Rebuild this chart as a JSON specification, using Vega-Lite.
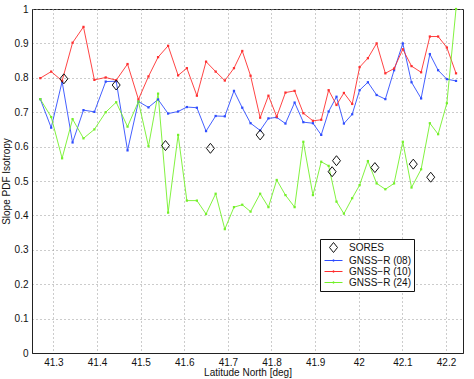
{
  "$schema": "https://vega.github.io/schema/vega-lite/v6.json",
  "width": 431,
  "height": 344,
  "autosize": {"type": "none"},
  "padding": {"left": 32, "top": 9, "right": 11, "bottom": 26},
  "background": "white",
  "config": {
    "view": {"stroke": "#222", "strokeWidth": 1},
    "font": "Liberation Sans",
    "axis": {
      "labelFont": "Liberation Sans",
      "titleFont": "Liberation Sans",
      "labelFontSize": 10,
      "titleFontSize": 10,
      "titleFontWeight": "normal",
      "labelColor": "#111",
      "titleColor": "#111",
      "domainColor": "#222",
      "ticks": false,
      "gridColor": "#999",
      "gridDash": [1, 3],
      "gridWidth": 1,
      "gridOpacity": 1
    }
  },
  "data": {
    "values": [
      {"lat": 41.270, "series": "GNSS−R (08)", "v": 0.738},
      {"lat": 41.295, "series": "GNSS−R (08)", "v": 0.655},
      {"lat": 41.320, "series": "GNSS−R (08)", "v": 0.789},
      {"lat": 41.344, "series": "GNSS−R (08)", "v": 0.612},
      {"lat": 41.369, "series": "GNSS−R (08)", "v": 0.706},
      {"lat": 41.394, "series": "GNSS−R (08)", "v": 0.701},
      {"lat": 41.420, "series": "GNSS−R (08)", "v": 0.789},
      {"lat": 41.444, "series": "GNSS−R (08)", "v": 0.790},
      {"lat": 41.470, "series": "GNSS−R (08)", "v": 0.589},
      {"lat": 41.495, "series": "GNSS−R (08)", "v": 0.731},
      {"lat": 41.518, "series": "GNSS−R (08)", "v": 0.714},
      {"lat": 41.540, "series": "GNSS−R (08)", "v": 0.737},
      {"lat": 41.563, "series": "GNSS−R (08)", "v": 0.696},
      {"lat": 41.586, "series": "GNSS−R (08)", "v": 0.702},
      {"lat": 41.606, "series": "GNSS−R (08)", "v": 0.715},
      {"lat": 41.629, "series": "GNSS−R (08)", "v": 0.713},
      {"lat": 41.650, "series": "GNSS−R (08)", "v": 0.645},
      {"lat": 41.672, "series": "GNSS−R (08)", "v": 0.689},
      {"lat": 41.693, "series": "GNSS−R (08)", "v": 0.688},
      {"lat": 41.714, "series": "GNSS−R (08)", "v": 0.762},
      {"lat": 41.733, "series": "GNSS−R (08)", "v": 0.713},
      {"lat": 41.752, "series": "GNSS−R (08)", "v": 0.668},
      {"lat": 41.774, "series": "GNSS−R (08)", "v": 0.647},
      {"lat": 41.793, "series": "GNSS−R (08)", "v": 0.682},
      {"lat": 41.812, "series": "GNSS−R (08)", "v": 0.685},
      {"lat": 41.832, "series": "GNSS−R (08)", "v": 0.667},
      {"lat": 41.853, "series": "GNSS−R (08)", "v": 0.728},
      {"lat": 41.873, "series": "GNSS−R (08)", "v": 0.671},
      {"lat": 41.895, "series": "GNSS−R (08)", "v": 0.668},
      {"lat": 41.914, "series": "GNSS−R (08)", "v": 0.634},
      {"lat": 41.931, "series": "GNSS−R (08)", "v": 0.702},
      {"lat": 41.949, "series": "GNSS−R (08)", "v": 0.745},
      {"lat": 41.966, "series": "GNSS−R (08)", "v": 0.667},
      {"lat": 41.985, "series": "GNSS−R (08)", "v": 0.694},
      {"lat": 42.002, "series": "GNSS−R (08)", "v": 0.764},
      {"lat": 42.021, "series": "GNSS−R (08)", "v": 0.787},
      {"lat": 42.041, "series": "GNSS−R (08)", "v": 0.750},
      {"lat": 42.061, "series": "GNSS−R (08)", "v": 0.738},
      {"lat": 42.081, "series": "GNSS−R (08)", "v": 0.822},
      {"lat": 42.101, "series": "GNSS−R (08)", "v": 0.900},
      {"lat": 42.121, "series": "GNSS−R (08)", "v": 0.787},
      {"lat": 42.143, "series": "GNSS−R (08)", "v": 0.740},
      {"lat": 42.163, "series": "GNSS−R (08)", "v": 0.869},
      {"lat": 42.182, "series": "GNSS−R (08)", "v": 0.822},
      {"lat": 42.202, "series": "GNSS−R (08)", "v": 0.796},
      {"lat": 42.223, "series": "GNSS−R (08)", "v": 0.791},

      {"lat": 41.270, "series": "GNSS−R (10)", "v": 0.799},
      {"lat": 41.295, "series": "GNSS−R (10)", "v": 0.818},
      {"lat": 41.320, "series": "GNSS−R (10)", "v": 0.791},
      {"lat": 41.344, "series": "GNSS−R (10)", "v": 0.902},
      {"lat": 41.369, "series": "GNSS−R (10)", "v": 0.948},
      {"lat": 41.394, "series": "GNSS−R (10)", "v": 0.794},
      {"lat": 41.420, "series": "GNSS−R (10)", "v": 0.801},
      {"lat": 41.444, "series": "GNSS−R (10)", "v": 0.793},
      {"lat": 41.470, "series": "GNSS−R (10)", "v": 0.840},
      {"lat": 41.495, "series": "GNSS−R (10)", "v": 0.737},
      {"lat": 41.518, "series": "GNSS−R (10)", "v": 0.804},
      {"lat": 41.540, "series": "GNSS−R (10)", "v": 0.860},
      {"lat": 41.563, "series": "GNSS−R (10)", "v": 0.893},
      {"lat": 41.586, "series": "GNSS−R (10)", "v": 0.807},
      {"lat": 41.606, "series": "GNSS−R (10)", "v": 0.828},
      {"lat": 41.629, "series": "GNSS−R (10)", "v": 0.748},
      {"lat": 41.650, "series": "GNSS−R (10)", "v": 0.847},
      {"lat": 41.672, "series": "GNSS−R (10)", "v": 0.818},
      {"lat": 41.693, "series": "GNSS−R (10)", "v": 0.792},
      {"lat": 41.714, "series": "GNSS−R (10)", "v": 0.828},
      {"lat": 41.733, "series": "GNSS−R (10)", "v": 0.878},
      {"lat": 41.752, "series": "GNSS−R (10)", "v": 0.806},
      {"lat": 41.774, "series": "GNSS−R (10)", "v": 0.684},
      {"lat": 41.793, "series": "GNSS−R (10)", "v": 0.748},
      {"lat": 41.812, "series": "GNSS−R (10)", "v": 0.687},
      {"lat": 41.832, "series": "GNSS−R (10)", "v": 0.757},
      {"lat": 41.853, "series": "GNSS−R (10)", "v": 0.762},
      {"lat": 41.873, "series": "GNSS−R (10)", "v": 0.697},
      {"lat": 41.895, "series": "GNSS−R (10)", "v": 0.675},
      {"lat": 41.914, "series": "GNSS−R (10)", "v": 0.678},
      {"lat": 41.931, "series": "GNSS−R (10)", "v": 0.764},
      {"lat": 41.949, "series": "GNSS−R (10)", "v": 0.721},
      {"lat": 41.966, "series": "GNSS−R (10)", "v": 0.756},
      {"lat": 41.985, "series": "GNSS−R (10)", "v": 0.724},
      {"lat": 42.002, "series": "GNSS−R (10)", "v": 0.831},
      {"lat": 42.021, "series": "GNSS−R (10)", "v": 0.857},
      {"lat": 42.041, "series": "GNSS−R (10)", "v": 0.900},
      {"lat": 42.061, "series": "GNSS−R (10)", "v": 0.813},
      {"lat": 42.081, "series": "GNSS−R (10)", "v": 0.827},
      {"lat": 42.101, "series": "GNSS−R (10)", "v": 0.883},
      {"lat": 42.121, "series": "GNSS−R (10)", "v": 0.834},
      {"lat": 42.143, "series": "GNSS−R (10)", "v": 0.816},
      {"lat": 42.163, "series": "GNSS−R (10)", "v": 0.920},
      {"lat": 42.182, "series": "GNSS−R (10)", "v": 0.920},
      {"lat": 42.202, "series": "GNSS−R (10)", "v": 0.888},
      {"lat": 42.223, "series": "GNSS−R (10)", "v": 0.813},

      {"lat": 41.270, "series": "GNSS−R (24)", "v": 0.738},
      {"lat": 41.295, "series": "GNSS−R (24)", "v": 0.686},
      {"lat": 41.320, "series": "GNSS−R (24)", "v": 0.566},
      {"lat": 41.344, "series": "GNSS−R (24)", "v": 0.680},
      {"lat": 41.369, "series": "GNSS−R (24)", "v": 0.624},
      {"lat": 41.394, "series": "GNSS−R (24)", "v": 0.650},
      {"lat": 41.420, "series": "GNSS−R (24)", "v": 0.700},
      {"lat": 41.444, "series": "GNSS−R (24)", "v": 0.729},
      {"lat": 41.470, "series": "GNSS−R (24)", "v": 0.658},
      {"lat": 41.495, "series": "GNSS−R (24)", "v": 0.731},
      {"lat": 41.518, "series": "GNSS−R (24)", "v": 0.601},
      {"lat": 41.540, "series": "GNSS−R (24)", "v": 0.754},
      {"lat": 41.563, "series": "GNSS−R (24)", "v": 0.408},
      {"lat": 41.586, "series": "GNSS−R (24)", "v": 0.634},
      {"lat": 41.606, "series": "GNSS−R (24)", "v": 0.443},
      {"lat": 41.629, "series": "GNSS−R (24)", "v": 0.443},
      {"lat": 41.650, "series": "GNSS−R (24)", "v": 0.404},
      {"lat": 41.672, "series": "GNSS−R (24)", "v": 0.463},
      {"lat": 41.693, "series": "GNSS−R (24)", "v": 0.360},
      {"lat": 41.714, "series": "GNSS−R (24)", "v": 0.424},
      {"lat": 41.733, "series": "GNSS−R (24)", "v": 0.431},
      {"lat": 41.752, "series": "GNSS−R (24)", "v": 0.411},
      {"lat": 41.774, "series": "GNSS−R (24)", "v": 0.463},
      {"lat": 41.793, "series": "GNSS−R (24)", "v": 0.424},
      {"lat": 41.812, "series": "GNSS−R (24)", "v": 0.503},
      {"lat": 41.832, "series": "GNSS−R (24)", "v": 0.459},
      {"lat": 41.853, "series": "GNSS−R (24)", "v": 0.424},
      {"lat": 41.873, "series": "GNSS−R (24)", "v": 0.614},
      {"lat": 41.895, "series": "GNSS−R (24)", "v": 0.459},
      {"lat": 41.914, "series": "GNSS−R (24)", "v": 0.556},
      {"lat": 41.931, "series": "GNSS−R (24)", "v": 0.544},
      {"lat": 41.949, "series": "GNSS−R (24)", "v": 0.440},
      {"lat": 41.966, "series": "GNSS−R (24)", "v": 0.405},
      {"lat": 41.985, "series": "GNSS−R (24)", "v": 0.450},
      {"lat": 42.002, "series": "GNSS−R (24)", "v": 0.488},
      {"lat": 42.021, "series": "GNSS−R (24)", "v": 0.558},
      {"lat": 42.041, "series": "GNSS−R (24)", "v": 0.493},
      {"lat": 42.061, "series": "GNSS−R (24)", "v": 0.476},
      {"lat": 42.081, "series": "GNSS−R (24)", "v": 0.493},
      {"lat": 42.101, "series": "GNSS−R (24)", "v": 0.614},
      {"lat": 42.121, "series": "GNSS−R (24)", "v": 0.481},
      {"lat": 42.143, "series": "GNSS−R (24)", "v": 0.534},
      {"lat": 42.163, "series": "GNSS−R (24)", "v": 0.668},
      {"lat": 42.182, "series": "GNSS−R (24)", "v": 0.636},
      {"lat": 42.202, "series": "GNSS−R (24)", "v": 0.726},
      {"lat": 42.223, "series": "GNSS−R (24)", "v": 1.0},

      {"lat": 41.324, "series": "SORES", "v": 0.797},
      {"lat": 41.444, "series": "SORES", "v": 0.779},
      {"lat": 41.557, "series": "SORES", "v": 0.603},
      {"lat": 41.660, "series": "SORES", "v": 0.595},
      {"lat": 41.774, "series": "SORES", "v": 0.634},
      {"lat": 41.939, "series": "SORES", "v": 0.527},
      {"lat": 41.949, "series": "SORES", "v": 0.559},
      {"lat": 42.037, "series": "SORES", "v": 0.539},
      {"lat": 42.125, "series": "SORES", "v": 0.549},
      {"lat": 42.165, "series": "SORES", "v": 0.511}
    ]
  },
  "encoding": {
    "x": {
      "field": "lat", "type": "quantitative",
      "scale": {"domain": [41.251, 42.239], "nice": false, "zero": false},
      "axis": {
        "title": "Latitude North [deg]",
        "values": [41.3, 41.4, 41.5, 41.6, 41.7, 41.8, 41.9, 42.0, 42.1, 42.2],
        "format": ".1~f",
        "labelPadding": 4,
        "titlePadding": 0,
        "titleBaseline": "top"
      }
    },
    "y": {
      "field": "v", "type": "quantitative",
      "scale": {"domain": [0, 1], "nice": false},
      "axis": {
        "title": "Slope PDF Isotropy",
        "values": [0, 0.1, 0.2, 0.3, 0.4, 0.5, 0.6, 0.7, 0.8, 0.9, 1],
        "format": ".1~f",
        "labelPadding": 4,
        "titlePadding": 3
      }
    },
    "color": {
      "field": "series", "type": "nominal",
      "scale": {
        "domain": ["SORES", "GNSS−R (08)", "GNSS−R (10)", "GNSS−R (24)"],
        "range": ["#111111", "#2f4dff", "#ff2f2f", "#74f02a"]
      },
      "legend": {
        "title": null,
        "orient": "none",
        "legendX": 288,
        "legendY": 230,
        "fillColor": "white",
        "strokeColor": "#111",
        "padding": 3,
        "rowPadding": 0,
        "labelFont": "Liberation Sans",
        "labelFontSize": 10,
        "labelColor": "#111",
        "symbolSize": 100,
        "symbolOffset": 5,
        "labelOffset": 10,
        "symbolFillColor": "transparent",
        "encode": {
          "symbols": {
            "update": {
              "shape": {"signal": "datum.value === 'SORES' ? 'M0,-1L0.8,0L0,1L-0.8,0Z' : 'M-1.8,0H1.8M-0.12,-0.12H0.12V0.12H-0.12Z'"},
              "stroke": {"signal": "scale('color', datum.value)"},
              "fill": {"value": "transparent"},
              "fillOpacity": {"value": 0},
              "strokeOpacity": {"value": 1},
              "strokeWidth": {"value": 1},
              "opacity": {"value": 1}
            }
          }
        }
      }
    }
  },
  "layer": [
    {
      "transform": [{"filter": "datum.series !== 'SORES'"}],
      "mark": {
        "type": "line",
        "strokeWidth": 0.9,
        "point": {"filled": true, "shape": "square", "size": 5}
      }
    },
    {
      "transform": [{"filter": "datum.series === 'SORES'"}],
      "mark": {
        "type": "point",
        "shape": "M0,-1L0.8,0L0,1L-0.8,0Z",
        "size": 100,
        "filled": false,
        "strokeWidth": 1,
        "opacity": 1
      }
    }
  ]
}
